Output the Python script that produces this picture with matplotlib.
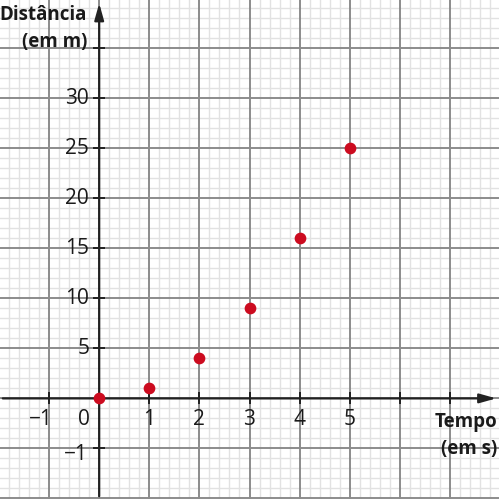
import matplotlib.pyplot as plt
import numpy as np

# data
tempo = [0, 1, 2, 3, 4, 5]
distancia = [0, 1, 4, 9, 16, 25]
x_tick_vals = [-1, 1, 2, 3, 4, 5]
y_tick_vals = [5, 10, 15, 20, 25, 30]

plt.rcParams['font.family'] = ['Open Sans', 'DejaVu Sans']

fig = plt.figure(figsize=(4.99, 4.99), dpi=100)
ax = fig.add_axes([0, 0, 1, 1])
ax.set_xlim(-1.98, 7.98)
ax.set_ylim(-10.05, 39.8)
ax.axis('off')

# grid paper: minor lines first, then major on top
for i in range(-10, 41):
    if i % 5 != 0:
        ax.axvline(i / 5, color='#e2e2e2', lw=1.0, zorder=0)
        ax.axhline(i, color='#e2e2e2', lw=1.0, zorder=0)
for i in range(-2, 9):
    ax.axvline(i, color='#8c8c8c', lw=1.4, zorder=1)
for i in range(-10, 41, 5):
    ax.axhline(i, color='#8c8c8c', lw=1.4, zorder=1)

# axes with arrows
ax.annotate('', xy=(7.98, 0), xytext=(-1.98, 0),
            arrowprops=dict(arrowstyle='-|>,head_length=1.0,head_width=0.28', color='#222222', lw=1.6))
ax.annotate('', xy=(0, 39.75), xytext=(0, -10.05),
            arrowprops=dict(arrowstyle='-|>,head_length=1.0,head_width=0.28', color='#222222', lw=1.6))

# tick marks on axes
ax.plot([-1, 1, 2, 3, 4, 5, 6, 7], [0] * 8, ls='none', marker='|', ms=8, mew=1.4, color='#222222', zorder=3)
ax.plot([0] * 8, [-5, 5, 10, 15, 20, 25, 30, 35], ls='none', marker='_', ms=8, mew=1.4, color='#222222', zorder=3)

# tick labels
fs = 15
for v in x_tick_vals:
    if v < 0:
        ax.text(v + 0.08, -1.1, '\u2212' + str(abs(v)), ha='right', va='top', fontsize=fs, color='#1a1a1a')
    else:
        ax.text(v, -1.1, str(v), ha='center', va='top', fontsize=fs, color='#1a1a1a')
ax.text(-0.18, -1.1, '0', ha='right', va='top', fontsize=fs, color='#1a1a1a')
for v in y_tick_vals:
    ax.text(-0.2, v, str(v), ha='right', va='center', fontsize=fs, color='#1a1a1a')
ax.text(-0.22, -5.6, '\u22121', ha='right', va='center', fontsize=fs, color='#1a1a1a')

# axis titles
ax.text(-0.24, 38.3, 'Distância', ha='right', va='center', fontsize=13.5, fontweight='bold', color='#1a1a1a')
ax.text(-0.24, 35.6, '(em m)', ha='right', va='center', fontsize=13.5, fontweight='bold', color='#1a1a1a')
ax.text(7.94, -2.4, 'Tempo', ha='right', va='center', fontsize=13.5, fontweight='bold', color='#1a1a1a')
ax.text(7.94, -5.1, '(em s)', ha='right', va='center', fontsize=13.5, fontweight='bold', color='#1a1a1a')

# points
ax.scatter(tempo, distancia, s=55, color='#cc0b1f', zorder=5, clip_on=False)

fig.savefig('out.png', dpi=100)
